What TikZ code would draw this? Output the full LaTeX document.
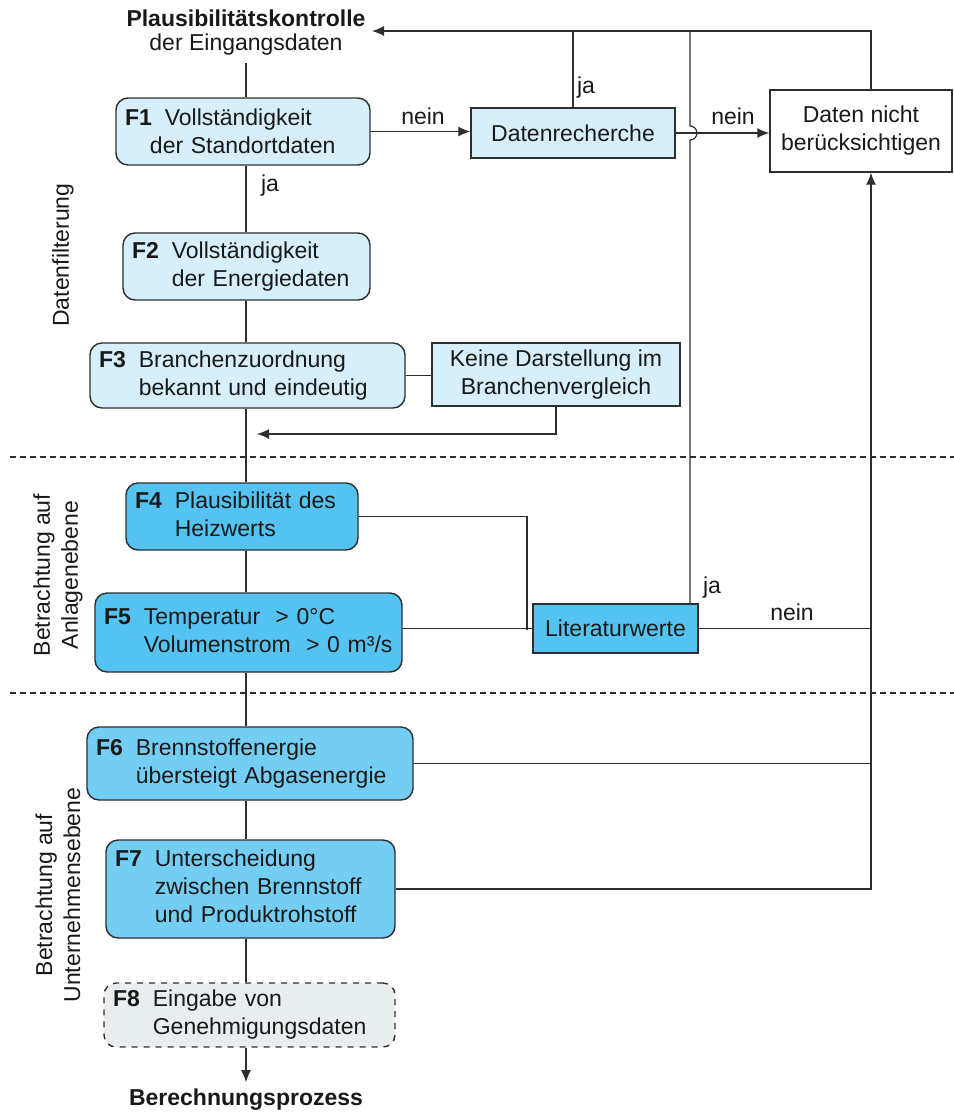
\documentclass[tikz,border=0pt]{standalone}
\usepackage{fontspec}
\setmainfont{Liberation Sans}
\usetikzlibrary{arrows.meta,positioning,calc}

\definecolor{lightblue}{HTML}{D6EFFB}
\definecolor{midblue}{HTML}{55C3F1}
\definecolor{paleblue}{HTML}{74CDF3}
\definecolor{linegray}{HTML}{2E2E2E}
\definecolor{fgray}{HTML}{E8EDEF}

\newcommand{\ftext}[2]{\begin{tabular}{@{}l@{\hspace{6.5pt}}l@{}}\textbf{#1}&\begin{tabular}[t]{@{}l@{}}#2\end{tabular}\end{tabular}}

\tikzset{
  fbox/.style={draw=linegray, line width=0.7pt, rounded corners=6pt, inner xsep=4.5pt, inner ysep=0pt, align=left},
  rbox/.style={draw=linegray, line width=0.7pt, inner sep=0pt, align=center},
  conn/.style={draw=linegray, line width=0.6pt},
  arr/.style={conn, -{Latex[length=6pt,width=5pt]}},
  lbl/.style={inner sep=1pt},
  sep/.style={draw=linegray, line width=0.6pt, dash pattern=on 3pt off 2pt}
}

\begin{document}
\begin{tikzpicture}[x=0.5pt, y=-0.5pt, font=\fontsize{11.5}{14}\selectfont, text=black!90]
  \useasboundingbox (0,0) rectangle (954,1115);

  % Titel
  \node[font=\fontsize{11.5}{14}\selectfont\bfseries] (plaus) at (246,18) {Plausibilitätskontrolle};
  \node (eing) at (246,45) {der Eingangsdaten};

  % Hauptkette
  \node[fbox, fill=lightblue, text width=118pt, minimum height=33.5pt] (f1) at (243,131.5)
    {\textbf{F1}\hspace{6.5pt}Vollständigkeit\\\hspace*{12.5pt}der Standortdaten};
  \node[fbox, fill=lightblue, text width=114.5pt, minimum height=33.5pt] (f2) at (246.5,266.5)
    {\ftext{F2}{Vollständigkeit\\der Energiedaten}};
  \node[fbox, fill=lightblue, text width=148.5pt, minimum height=32.5pt] (f3) at (247.5,375.5)
    {\ftext{F3}{Branchenzuordnung\\bekannt und eindeutig}};
  \node[fbox, fill=midblue, text width=107pt, minimum height=33.5pt] (f4) at (242,516.5)
    {\ftext{F4}{Plausibilität des\\Heizwerts}};
  \node[fbox, fill=midblue, text width=144.5pt, minimum height=39.5pt] (f5) at (248.5,632.5)
    {\ftext{F5}{Temperatur \ > 0°C\\Volumenstrom \ > 0 m³/s}};
  \node[fbox, fill=paleblue, text width=154pt, minimum height=36.5pt] (f6) at (250,763.5)
    {\ftext{F6}{Brennstoffenergie\\übersteigt Abgasenergie}};
  \node[fbox, fill=paleblue, text width=135.5pt, minimum height=49pt] (f7) at (250.5,889)
    {\ftext{F7}{Unterscheidung\\zwischen Brennstoff\\und Produktrohstoff}};
  \node[fbox, fill=fgray, dashed, text width=136.5pt, minimum height=32pt] (f8) at (249.5,1015)
    {\ftext{F8}{Eingabe von\\Genehmigungsdaten}};
  \node[font=\fontsize{11.5}{14}\selectfont\bfseries] (ber) at (246,1100) {Berechnungsprozess};

  % Nebenknoten
  \node[rbox, fill=lightblue, minimum width=102pt, minimum height=25pt] (dr) at (573,133) {Datenrecherche};
  \node[rbox, fill=white, minimum width=91pt, minimum height=41pt] (dnb) at (861,131) {Daten nicht\\berücksichtigen};
  \node[rbox, fill=lightblue, minimum width=124pt, minimum height=31.5pt] (kd) at (556,374.5) {Keine Darstellung im\\Branchenvergleich};
  \node[rbox, fill=midblue, minimum width=82.5pt, minimum height=24.5pt] (lit) at (615.5,628.5) {Literaturwerte};

  % Bereiche
  \node[rotate=90] (lfilt) at (63,255) {Datenfilterung};
  \node[rotate=90, align=center] (lanl) at (58,575) {Betrachtung auf\\Anlagenebene};
  \node[rotate=90, align=center] (lunt) at (58,895) {Betrachtung auf\\Unternehmensebene};
  \draw[sep] (10,457) -- (954,457);
  \draw[sep] (10,693) -- (954,693);

  % Hilfspunkte
  \coordinate (mx) at (246,0);
  \coordinate (rx) at (871,0);
  \coordinate (jx) at (690,31);
  \coordinate (retin) at (372,31);
  \coordinate (kret) at (257,434);
  \coordinate (j45) at (527,630);

  % Verbindungen
  \draw[conn] (eing.south -| mx) -- (f1.north -| mx);
  \foreach \a/\b in {f1/f2,f2/f3,f3/f4,f4/f5,f5/f6,f6/f7,f7/f8}
    \draw[conn] (\a.south -| mx) -- (\b.north -| mx);
  \draw[arr] (f8.south -| mx) -- (ber.north -| mx);

  \draw[arr] (f1.east) -- (f1.east -| dr.west);
  \draw[arr] (dr.east) -- (dr.east -| dnb.west);
  \draw[arr] (dnb.north -| rx) -- (rx |- retin) -- (retin);
  \draw[conn] (dr.north) -- (dr.north |- retin);
  \draw[conn] (jx) -- ($(jx |- dr.east)+(0,-7)$) arc[start angle=90, end angle=-90, radius=3.5pt] -- (lit.north -| jx);

  \draw[conn] (f3.east) -- (f3.east -| kd.west);
  \draw[arr] (kd.south) |- (kret);

  \draw[conn] (f4.east) -| (j45);
  \draw[conn] (f5.east |- lit.west) -- (lit.west);
  \draw[conn] (lit.east) -- (lit.east -| rx);
  \draw[conn] (f6.east) -- (f6.east -| rx);
  \draw[arr] (f7.east) -- (f7.east -| rx) -- (rx |- dnb.south);

  % Beschriftungen
  \node[lbl] (ja1) at (270,186) {ja};
  \node[lbl] (nein1) at (423,116) {nein};
  \node[lbl] (ja2) at (586,88) {ja};
  \node[lbl] (nein2) at (733,116) {nein};
  \node[lbl] (ja3) at (712,588) {ja};
  \node[lbl] (nein3) at (792,612) {nein};
\end{tikzpicture}
\end{document}
